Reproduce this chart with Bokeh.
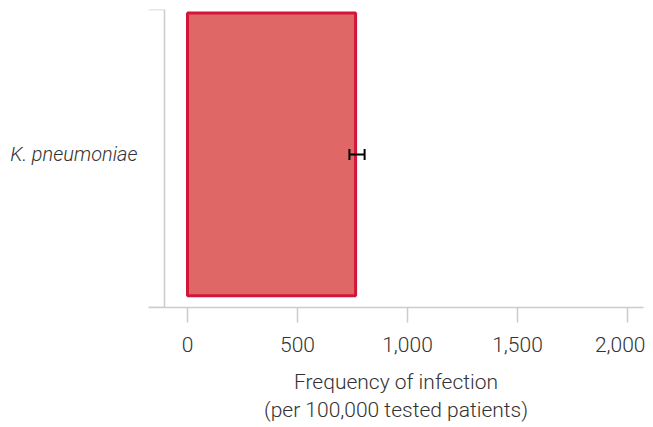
from bokeh.plotting import figure
from bokeh.models import (ColumnDataSource, Range1d, LinearAxis,
                          FixedTicker, NumeralTickFormatter, Whisker, TeeHead)
from bokeh.embed import file_html
from bokeh.resources import INLINE

# data
categories = ["K. pneumoniae"]
values = [764]
err_lower = [736]
err_upper = [805]
x_ticks = [0, 500, 1000, 1500, 2000]

ypos = [i + 0.5 for i in range(len(categories))]
src = ColumnDataSource(dict(y=ypos, val=values, lo=err_lower, hi=err_upper))

FONT = "Roboto Light"
AX = "#cccccc"
TXT = "#333333"
FS = "21px"
Y_LO = -0.028
Y_HI = len(categories)

p = figure(width=645, height=427, output_backend="svg", toolbar_location=None,
           x_range=Range1d(-177.3, 2072.7), y_range=Range1d(Y_LO, Y_HI),
           x_axis_type=None, y_axis_type=None,
           min_border_left=148, min_border_right=2, min_border_top=9, min_border_bottom=120)
p.outline_line_color = None
p.xgrid.visible = False
p.ygrid.visible = False

# bar
p.hbar(y="y", left=0, right="val", height=0.975, source=src,
       fill_color="#df6866", line_color="#d2153a", line_width=3)

# error bar
w = Whisker(base="y", lower="lo", upper="hi", dimension="width", source=src,
            line_color="black", line_width=2, level="overlay",
            upper_head=TeeHead(size=11, line_color="black", line_width=2),
            lower_head=TeeHead(size=11, line_color="black", line_width=2))
p.add_layout(w)

# x axis
xa = LinearAxis(ticker=FixedTicker(ticks=x_ticks), formatter=NumeralTickFormatter(format="0,0"),
                axis_label="Frequency of infection\n(per 100,000 tested patients)")
xa.axis_line_color = AX
xa.axis_line_width = 1.5
xa.major_tick_line_color = AX
xa.major_tick_line_width = 1.5
xa.major_tick_out = 15
xa.major_tick_in = 0
xa.minor_tick_line_color = None
xa.major_label_standoff = 14
xa.major_label_text_font = FONT
xa.major_label_text_font_size = FS
xa.major_label_text_color = TXT
xa.axis_label_text_font = FONT
xa.axis_label_text_font_size = "21px"
xa.axis_label_text_font_style = "normal"
xa.axis_label_text_color = TXT
xa.axis_label_standoff = 15
p.add_layout(xa, "below")

# y axis line with end ticks
ya = LinearAxis(ticker=FixedTicker(ticks=[Y_LO, Y_HI]), fixed_location=-104.5)
ya.axis_line_color = AX
ya.axis_line_width = 1.5
ya.major_tick_line_color = AX
ya.major_tick_line_width = 1.5
ya.major_tick_out = 16
ya.major_tick_in = 0
ya.minor_tick_line_color = None
ya.major_label_text_color = None
ya.major_label_text_font_size = "0px"
p.add_layout(ya, "left")

# category label
ca = LinearAxis(ticker=FixedTicker(ticks=ypos),
                major_label_overrides={y: c for y, c in zip(ypos, categories)})
ca.axis_line_color = None
ca.major_tick_line_color = None
ca.major_tick_out = 0
ca.major_tick_in = 0
ca.minor_tick_line_color = None
ca.major_label_standoff = 11
ca.major_label_text_font = FONT
ca.major_label_text_font_size = "20px"
ca.major_label_text_font_style = "italic"
ca.major_label_text_color = TXT
p.add_layout(ca, "left")

open("out.html", "w").write(file_html(p, INLINE))
